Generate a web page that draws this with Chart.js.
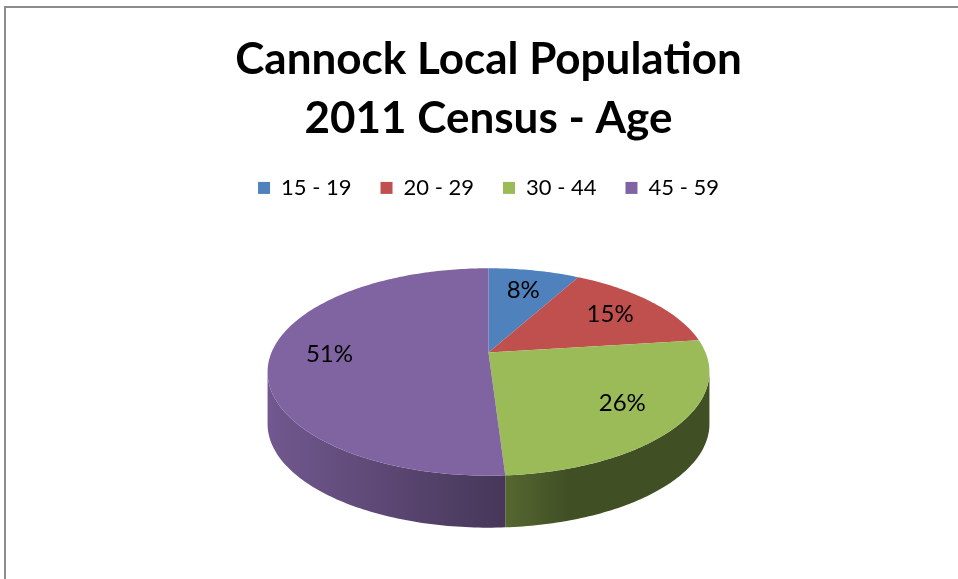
<!DOCTYPE html>
<html>
<head>
<meta charset="utf-8">
<title>Cannock Local Population - 2011 Census - Age</title>
<script src="https://cdn.jsdelivr.net/npm/chart.js@4.4.1/dist/chart.umd.min.js"></script>
<style>
  html, body { margin: 0; padding: 0; background: #fff; }
  #wrap { position: relative; width: 958px; height: 579px; overflow: hidden; }
  #frame {
    position: absolute; left: 4px; top: 6px; right: -4px; bottom: -4px;
    border-top: 2px solid #8c8c8c; border-left: 2px solid #8c8c8c;
    pointer-events: none;
  }
</style>
</head>
<body>
<div id="wrap">
  <canvas id="pieChart" width="958" height="579"></canvas>
  <div id="frame"></div>
</div>
<script>
// age bands and share of population (%)
const ageBands = ['15 - 19', '20 - 29', '30 - 44', '45 - 59'];
const shares = [8, 15, 26, 51];
const sliceColours = ['#4F81BD', '#C0504D', '#9BBB59', '#8064A2'];
const titleLines = ['Cannock Local Population', '2011 Census - Age'];

const FONT = 'Lato, "Liberation Sans", sans-serif';
const TILT = 0.461;    // vertical squash of the pie disc
const PERSP = 0.188;   // how much smaller the back of the disc looks
const DEPTH = 52;      // thickness of the pie
const LABEL_R = 0.73;  // label distance as a fraction of the radius

// brightness of the side wall across the pie, lit from the left
const sideLight = [[0, 0.88], [0.55, 0.54], [0.68, 0.42], [1, 0.42]];

function shade(hex, k) {
  const n = parseInt(hex.slice(1), 16);
  const r = Math.round(((n >> 16) & 255) * k);
  const g = Math.round(((n >> 8) & 255) * k);
  const b = Math.round((n & 255) * k);
  return `rgb(${r},${g},${b})`;
}

// project a point of the flat pie (angle in chart.js terms, fraction of radius)
// onto a disc seen from above and in front, with a little perspective
function project(arc, angle, frac, drop) {
  const u = Math.cos(angle) * frac;
  const w = -Math.sin(angle) * frac;   // positive = towards the back
  const s = 1 / (1 + PERSP * w);
  return {
    x: arc.x + arc.outerRadius * u * s,
    y: arc.y - arc.outerRadius * TILT * w * s + (drop || 0)
  };
}

function rimPath(ctx, arc, a, b, drop, first) {
  const steps = Math.max(2, Math.ceil(Math.abs(b - a) * 60));
  for (let j = 0; j <= steps; j++) {
    const p = project(arc, a + (b - a) * j / steps, 1, drop);
    if (j === 0 && first) ctx.moveTo(p.x, p.y); else ctx.lineTo(p.x, p.y);
  }
}

// draws the pie as a 3D disc using the arcs chart.js laid out
const pie3d = {
  id: 'pie3d',
  beforeDatasetsDraw(chart) {
    const arcs = chart.getDatasetMeta(0).data;
    if (!arcs.length) return;
    const ctx = chart.ctx;
    const arc0 = arcs[0];
    const rx = arc0.outerRadius / Math.sqrt(1 - PERSP * PERSP);
    const edge = Math.asin(PERSP);   // silhouette of the disc
    const TWO_PI = Math.PI * 2;

    ctx.save();

    // front wall, only where it faces the viewer
    arcs.forEach((arc, i) => {
      const grad = ctx.createLinearGradient(arc.x - rx, 0, arc.x + rx, 0);
      sideLight.forEach(([t, k]) => grad.addColorStop(t, shade(sliceColours[i], k)));
      for (let k = -1; k <= 1; k++) {
        const s = Math.max(arc.startAngle, edge + k * TWO_PI);
        const e = Math.min(arc.endAngle, Math.PI - edge + k * TWO_PI);
        if (e <= s) continue;
        ctx.beginPath();
        rimPath(ctx, arc, s, e, 0, true);
        rimPath(ctx, arc, e, s, DEPTH, false);
        ctx.closePath();
        ctx.fillStyle = grad;
        ctx.fill();
      }
    });

    // top faces
    arcs.forEach((arc, i) => {
      ctx.beginPath();
      ctx.moveTo(arc.x, arc.y);
      rimPath(ctx, arc, arc.startAngle, arc.endAngle, 0, false);
      ctx.closePath();
      ctx.fillStyle = sliceColours[i];
      ctx.fill();
    });

    // percentage labels
    const total = shares.reduce((s, v) => s + v, 0);
    ctx.font = '24px ' + FONT;
    ctx.fillStyle = '#000';
    ctx.textAlign = 'center';
    ctx.textBaseline = 'middle';
    arcs.forEach((arc, i) => {
      const mid = (arc.startAngle + arc.endAngle) / 2;
      const p = project(arc, mid, LABEL_R, 0);
      ctx.fillText(Math.round(shares[i] / total * 100) + '%', p.x, p.y);
    });

    ctx.restore();
    return false;
  }
};

const ctx = document.getElementById('pieChart').getContext('2d');

const pieChart = new Chart(ctx, {
  type: 'pie',
  data: {
    labels: ageBands,
    datasets: [{
      data: shares,
      backgroundColor: sliceColours,
      borderWidth: 0
    }]
  },
  options: {
    responsive: false,
    devicePixelRatio: 1,
    animation: false,
    radius: 217,
    layout: { padding: { left: 19, bottom: 83 } },
    plugins: {
      title: {
        display: true,
        text: titleLines,
        color: '#000',
        font: { family: FONT, size: 44, weight: 'bold', lineHeight: 1.34 },
        padding: { top: 30, bottom: 0 }
      },
      legend: {
        position: 'top',
        labels: {
          boxWidth: 12,
          boxHeight: 12,
          padding: 29,
          color: '#000',
          font: { family: FONT, size: 22 }
        }
      },
      tooltip: { enabled: false }
    }
  },
  plugins: [pie3d]
});
</script>
</body>
</html>
